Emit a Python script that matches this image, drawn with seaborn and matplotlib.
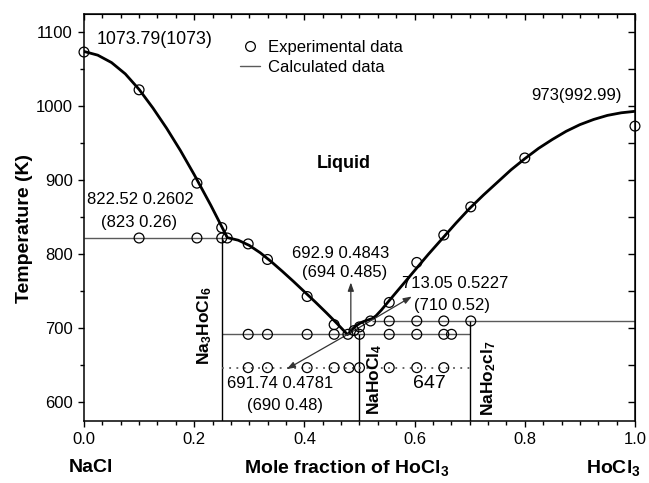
import numpy as np
import pandas as pd
import matplotlib
matplotlib.use("Agg")
import matplotlib.pyplot as plt
import seaborn as sns
from matplotlib.ticker import MultipleLocator
from matplotlib.lines import Line2D

# ---------------- data ----------------
# calculated liquidus (black curve)
calc_x = [0.0, 0.025, 0.05, 0.075, 0.10, 0.125, 0.15, 0.175, 0.20, 0.23, 0.2602,
          0.28, 0.30, 0.32, 0.34, 0.36, 0.38, 0.40, 0.42, 0.44, 0.46, 0.4781,
          0.482, 0.486, 0.49, 0.495, 0.50, 0.505, 0.51, 0.516, 0.5227,
          0.53, 0.54, 0.55, 0.575, 0.60, 0.625, 0.65, 0.675, 0.70, 0.725,
          0.75, 0.775, 0.80, 0.825, 0.85, 0.875, 0.90, 0.925, 0.95, 0.975, 1.0]
calc_T = [1073.79, 1068.8, 1058.8, 1043.5, 1022.6, 997.6, 970.1, 940.1, 907.6, 866.4, 822.52,
          819, 812, 802, 790, 777, 763.5, 749.5, 735.5, 721, 706, 691.74,
          694, 698, 701, 704, 706.5, 708.5, 710, 711.5, 713.05,
          717, 725, 734, 756, 778, 800, 821, 842, 862, 880,
          897, 914, 929, 943, 955, 966, 975, 982, 987.5, 991, 992.99]

# experimental points (open circles)
exp_x = [0.0, 0.10, 0.205, 0.25, 0.26, 0.298, 0.333, 0.405, 0.454, 0.479, 0.49, 0.50,
         0.52, 0.554, 0.604, 0.653, 0.702, 0.80, 1.0,
         0.10, 0.205, 0.25,
         0.554, 0.604, 0.653, 0.702,
         0.298, 0.333, 0.405, 0.454, 0.50, 0.554, 0.604, 0.653, 0.667,
         0.298, 0.333, 0.405, 0.454, 0.481, 0.50, 0.554, 0.604, 0.653]
exp_T = [1073, 1022, 896, 836, 822, 814, 793, 743, 705, 692, 697, 702,
         710, 735, 789, 826, 864, 930, 973,
         822, 822, 822,
         710, 710, 710, 710,
         692, 692, 692, 692, 692, 692, 692, 692, 692,
         647, 647, 647, 647, 647, 647, 647, 647, 647]

# invariant lines
h_T = [822.52, 692, 710]
h_x0 = [0.0, 0.25, 0.5227]
h_x1 = [0.2602, 0.70, 1.0]
v_x = [0.25, 0.50, 0.70]
v_T1 = [822.52, 692, 710]
dot_T = 647
dot_x = [0.25, 0.70]

x_ticks = [0.0, 0.2, 0.4, 0.6, 0.8, 1.0]
y_ticks = [600, 700, 800, 900, 1000, 1100]

# ---------------- style ----------------
sns.set_style("ticks")
plt.rcParams["font.family"] = ["Liberation Sans", "DejaVu Sans"]
plt.rcParams["mathtext.fontset"] = "custom"
plt.rcParams["mathtext.rm"] = "Liberation Sans"
plt.rcParams["mathtext.it"] = "Liberation Sans:italic"
plt.rcParams["mathtext.bf"] = "Liberation Sans:bold"
for k in ["text.color", "axes.labelcolor", "xtick.color", "ytick.color", "axes.edgecolor"]:
    plt.rcParams[k] = "black"

fig = plt.figure(figsize=(6.49, 4.83), dpi=100)
ax = fig.add_axes([0.1294, 0.1284, 0.849, 0.8436])

grey = "#5a5a5a"

# horizontal invariant lines
ax.hlines(h_T, h_x0, h_x1, colors=grey, lw=1.0, zorder=1)
# vertical compound lines
ax.vlines(v_x, 575, v_T1, colors="black", lw=1.0, zorder=1)
# dotted line
ax.plot(dot_x, [dot_T, dot_T], color=grey, lw=1.3, ls=(0, (1, 3)), zorder=1)

# calculated curve
sns.lineplot(x=calc_x, y=calc_T, sort=False, color="black", lw=2.0, ax=ax,
             estimator=None, zorder=3)

# experimental points
sns.scatterplot(x=exp_x, y=exp_T, marker="o", s=50, facecolor="none",
                edgecolor="black", linewidth=0.9, ax=ax, zorder=4, clip_on=False)

ax.set_xlim(0, 1.0)
ax.set_ylim(575, 1125)
ax.set_xticks(x_ticks)
ax.set_xticklabels([f"{v:.1f}" for v in x_ticks])
ax.set_yticks(y_ticks)
ax.xaxis.set_minor_locator(MultipleLocator(0.2 / 6))
ax.yaxis.set_minor_locator(MultipleLocator(50))
ax.tick_params(axis="both", which="major", direction="out", length=4.5, width=1.0,
               labelsize=12, colors="black")
ax.tick_params(axis="both", which="minor", direction="out", length=2.8, width=1.0)
for s in ax.spines.values():
    s.set_linewidth(1.1)
    s.set_visible(True)
    s.set_color("black")

secx = ax.secondary_xaxis("top")
secx.set_xticks(x_ticks)
secx.xaxis.set_minor_locator(MultipleLocator(0.2 / 6))
secx.tick_params(which="major", direction="in", length=4.5, width=1.0, labeltop=False)
secx.tick_params(which="minor", direction="in", length=2.8, width=1.0)
secy = ax.secondary_yaxis("right")
secy.set_yticks(y_ticks)
secy.yaxis.set_minor_locator(MultipleLocator(50))
secy.tick_params(which="both", direction="in", length=5, width=1.0, labelright=False)

ax.set_xlabel("")
ax.set_ylabel("")
fig.text(0.037, 1 - 228.5 / 483, "Temperature (K)", rotation=90, fontsize=14,
         fontweight="bold", ha="center", va="center")
fig.text(347 / 649, 1 - 468 / 483, r"Mole fraction of HoCl$_\mathbf{3}$", fontsize=14,
         fontweight="bold", ha="center", va="center")
fig.text(90.5 / 649, 1 - 468 / 483, "NaCl", fontsize=14, fontweight="bold",
         ha="center", va="center")
fig.text(613 / 649, 1 - 468 / 483, r"HoCl$_\mathbf{3}$", fontsize=14, fontweight="bold",
         ha="center", va="center")

# annotations
fs = 12
ax.text(0.0236, 1090, "1073.79(1073)", fontsize=12.8, ha="left", va="center")
ax.text(0.811, 1015, "973(992.99)", fontsize=fs, ha="left", va="center")
ax.text(0.471, 923, "Liquid", fontsize=13, fontweight="bold", ha="center", va="center")
ax.text(0.0054, 874, "822.52 0.2602", fontsize=fs, ha="left", va="center")
ax.text(0.031, 843, "(823 0.26)", fontsize=fs, ha="left", va="center")
ax.text(0.3775, 801, "692.9 0.4843", fontsize=fs, ha="left", va="center")
ax.text(0.3951, 775, "(694 0.485)", fontsize=fs, ha="left", va="center")
ax.text(0.5767, 761, "713.05 0.5227", fontsize=fs, ha="left", va="center")
ax.text(0.5995, 730.5, "(710 0.52)", fontsize=fs, ha="left", va="center")
ax.text(0.2595, 626, "691.74 0.4781", fontsize=fs, ha="left", va="center")
ax.text(0.2958, 595.5, "(690 0.48)", fontsize=fs, ha="left", va="center")
ax.text(0.597, 625, "647", fontsize=14, ha="left", va="center")

ax.text(0.219, 704, r"Na$_\mathbf{3}$HoCl$_\mathbf{6}$", rotation=90, fontsize=12.5,
        fontweight="bold", ha="center", va="center")
ax.text(0.528, 632, r"NaHoCl$_\mathbf{4}$", rotation=90, fontsize=12.5,
        fontweight="bold", ha="center", va="center")
ax.text(0.735, 633, r"NaHo$_\mathbf{2}$cl$_\mathbf{7}$", rotation=90, fontsize=12.5,
        fontweight="bold", ha="center", va="center")

arrow_kw = dict(arrowstyle="-|>,head_length=0.5,head_width=0.18", color="#333333", lw=0.9,
                shrinkA=0, shrinkB=0)
ax.annotate("", xy=(0.4843, 762), xytext=(0.4843, 692.9), arrowprops=arrow_kw)
ax.annotate("", xy=(0.368, 645), xytext=(0.4781, 691.74), arrowprops=arrow_kw)
ax.annotate("", xy=(0.595, 743), xytext=(0.4781, 691.74), arrowprops=arrow_kw)

handles = [Line2D([], [], marker="o", ls="none", mfc="none", mec="black", ms=7, mew=0.9),
           Line2D([], [], color=grey, lw=1.0)]
leg = ax.legend(handles, ["Experimental data", "Calculated data"], loc="upper left",
                bbox_to_anchor=(0.283, 0.935), frameon=False, fontsize=12,
                handlelength=1.2, handletextpad=0.5, labelspacing=0.3, borderpad=0,
                borderaxespad=0)

fig.savefig("out.png", dpi=100)
